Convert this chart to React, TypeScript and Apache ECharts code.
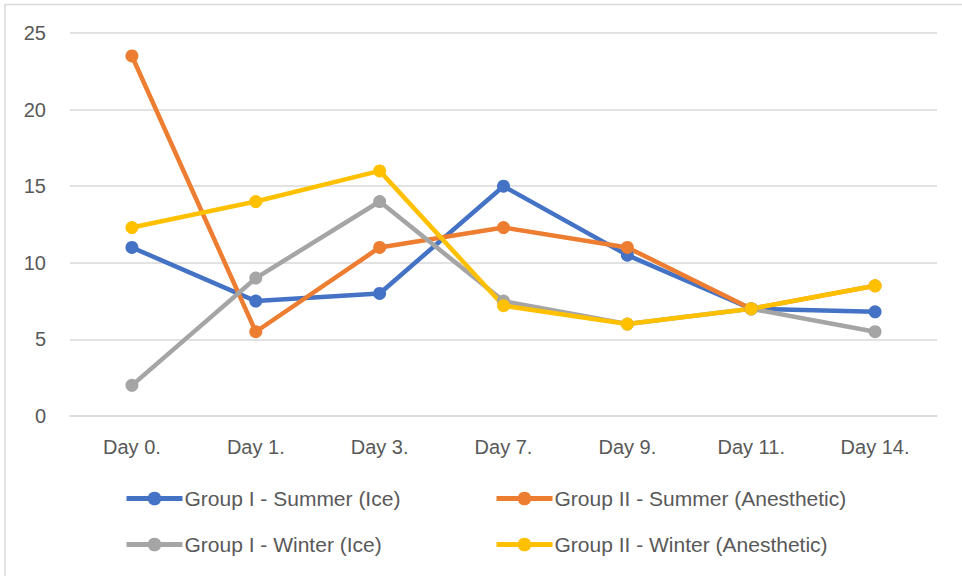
import React, { useEffect, useRef } from "react";
import * as echarts from "echarts";

const categories = ["Day 0.", "Day 1.", "Day 3.", "Day 7.", "Day 9.", "Day 11.", "Day 14."];
const seriesNames = [
  "Group I - Summer (Ice)",
  "Group II - Summer (Anesthetic)",
  "Group I - Winter (Ice)",
  "Group II - Winter (Anesthetic)",
];
const summerIce = [11, 7.5, 8, 15, 10.5, 7, 6.8];
const summerAnesthetic = [23.5, 5.5, 11, 12.3, 11, 7, 8.5];
const winterIce = [2, 9, 14, 7.5, 6, 7, 5.5];
const winterAnesthetic = [12.3, 14, 16, 7.2, 6, 7, 8.5];
const yTicks = { min: 0, max: 25, interval: 5 };

const colors = ["#4472C4", "#ED7D31", "#A5A5A5", "#FFC000"];
const FONT = "'Liberation Sans', Arial, sans-serif";

export default function App() {
  const ref = useRef<HTMLDivElement>(null);
  useEffect(() => {
    if (!ref.current) return;
    const chart = echarts.init(ref.current, undefined, { renderer: "svg" });
    const data = [summerIce, summerAnesthetic, winterIce, winterAnesthetic];
    const legendPos = [
      { left: 124, top: 488 },
      { left: 494, top: 488 },
      { left: 124, top: 534 },
      { left: 494, top: 534 },
    ];
    chart.setOption({
      animation: false,
      backgroundColor: "#ffffff",
      color: colors,
      textStyle: { fontFamily: FONT },
      graphic: [
        {
          type: "rect",
          shape: { x: 5, y: 4.5, width: 980, height: 600 },
          style: { fill: "none", stroke: "#D9D9D9", lineWidth: 1.5 },
          silent: true,
        },
      ],
      grid: { left: 70, right: 25, top: 33, bottom: 160 },
      legend: seriesNames.map((n, i) => ({
        data: [n],
        left: legendPos[i].left,
        top: legendPos[i].top,
        padding: 0,
        itemWidth: 56,
        itemHeight: 17,
        itemGap: 0,
        lineStyle: { width: 5 },
        textStyle: { fontSize: 21, color: "#595959", fontFamily: FONT, padding: [0, 0, 0, -3] },
      })),
      xAxis: {
        type: "category",
        data: categories,
        boundaryGap: true,
        axisLine: { show: true, lineStyle: { color: "#D9D9D9", width: 1.5 } },
        axisTick: { show: false },
        axisLabel: { color: "#595959", fontSize: 20, margin: 21, fontFamily: FONT },
      },
      yAxis: {
        type: "value",
        min: yTicks.min,
        max: yTicks.max,
        interval: yTicks.interval,
        axisLine: { show: false },
        axisTick: { show: false },
        splitLine: { lineStyle: { color: "#D9D9D9", width: 1.5 } },
        axisLabel: { color: "#595959", fontSize: 20, margin: 24, fontFamily: FONT },
      },
      series: seriesNames.map((n, i) => ({
        name: n,
        type: "line",
        data: data[i],
        symbol: "circle",
        symbolSize: 13,
        lineStyle: { width: 4.5, color: colors[i] },
        itemStyle: { color: colors[i] },
      })),
    });
    return () => chart.dispose();
  }, []);
  return (
    <div
      ref={ref}
      style={{ position: "fixed", left: 0, top: 0, width: 962, height: 576 }}
    />
  );
}
